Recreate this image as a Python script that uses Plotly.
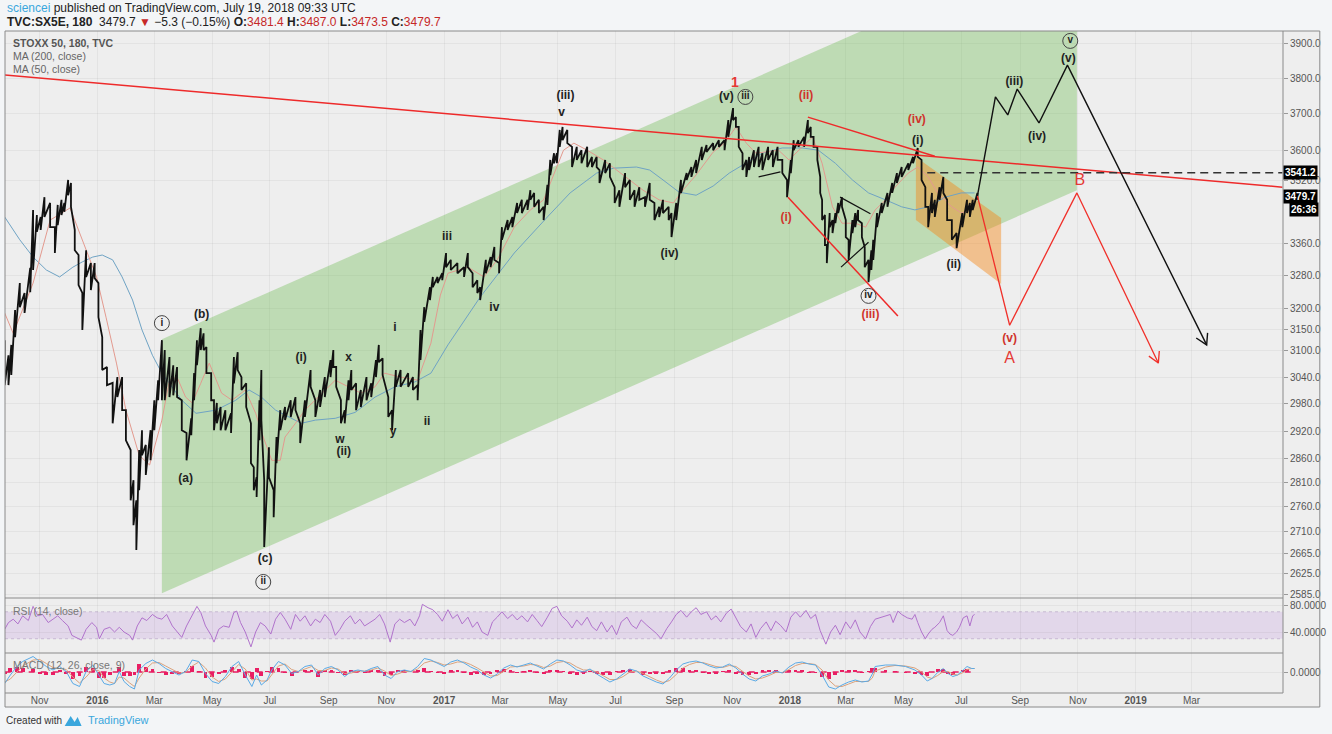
import numpy as np
import pandas as pd
import plotly.graph_objects as go

BASE = pd.Timestamp("2016-01-01")


def to_dates(days):
    return [BASE + pd.Timedelta(days=int(d)) for d in days]


# ---------------- price (180 min bars, condensed: day offset from 2016-01-01, high, low) -------------
price_day = [
    -98, -94, -91, -87, -82, -77, -71, -68, -64, -60, -56, -50, -45, -42, -38, -35, -31, -28, -24, -20,
    -16, -12, -7, -3, 1, 5, 10, 16, 21, 26, 30, 35, 38, 41, 44, 47, 51, 56, 60, 64, 68,
    71, 76, 80, 84, 89, 94, 99, 102, 105, 109, 112, 115, 120, 123, 126, 130, 135, 141, 144, 148,
    152, 157, 162, 165, 168, 171, 173, 176, 181, 186, 189, 193, 198, 204, 209, 214, 219, 225, 230, 235,
    240, 246, 249, 252, 257, 261, 265, 268, 273, 278, 284, 289, 294, 297, 301, 307, 311, 315, 320, 328,
    333, 338, 341, 345, 351,
    354, 359, 364, 368, 373, 380, 387, 391, 396, 401, 404, 410, 415, 419, 424, 427, 433, 438, 443, 448,
    454, 457, 461, 466, 471, 475, 478, 482, 485, 488, 491, 496, 501, 506, 511, 517, 522, 527, 530, 536,
    541, 546, 551, 557, 562, 567, 572, 578, 583, 588, 593, 597, 603, 606, 611, 616, 622, 627, 632, 638,
    643, 650, 656, 662,
    666, 671, 674, 677, 681, 685, 688, 693, 698, 702, 708, 713, 718, 723, 728, 732, 735, 740, 746, 750,
    753, 756, 760, 763, 765, 768, 770, 773, 776, 779, 782, 786, 790, 793, 797, 800, 803, 807, 810, 814,
    817, 819, 823, 828, 834, 839, 844, 849, 856, 861, 866, 870, 874, 877, 881, 884, 889, 893, 897, 902,
    907, 913, 918, 921, 924, 929,
]
price_high = [
    3125, 3090, 3114, 3196, 3261, 3237, 3298, 3444, 3431, 3426, 3477, 3462, 3400, 3457, 3470, 3462, 3522, 3514, 3393, 3330,
    3237, 3342, 3310, 3310, 3261, 3132, 3063, 3027, 3040, 3040, 2966, 2879, 2815, 2773, 2879, 2922, 2890, 2922, 2988, 3033, 3125,
    3102, 3086, 3067, 3063, 2988, 2916, 2948, 3049, 3125, 3153, 3141, 3109, 3049, 2988, 2982, 2973, 2966, 2959, 3086, 3097,
    3040, 3026, 2937, 2842, 2821, 2988, 3056, 2815, 2885, 2794, 2907, 2966, 2973, 2988, 2995, 2937, 2988, 3056, 2988, 3011,
    3040, 3079, 3102, 3063, 2988, 2966, 3033, 3056, 3026, 3011, 3040, 3026, 3079, 3114, 3083, 2995, 2966, 3056, 3056, 3049,
    3040, 3022, 3149, 3203, 3251,
    3276, 3276, 3285, 3335, 3318, 3310, 3300, 3335, 3285, 3268, 3251, 3318, 3325, 3350, 3310, 3400, 3418, 3426, 3462, 3470,
    3470, 3495, 3488, 3470, 3452, 3509, 3575, 3593, 3593, 3656, 3664, 3656, 3610, 3610, 3601, 3610, 3583, 3583, 3548, 3575,
    3566, 3503, 3495, 3540, 3522, 3495, 3503, 3477, 3514, 3462, 3452, 3470, 3452, 3436, 3462, 3522, 3540, 3556, 3575, 3610,
    3615, 3620, 3628, 3628,
    3683, 3716, 3691, 3664, 3593, 3575, 3583, 3601, 3610, 3593, 3610, 3601, 3610, 3575, 3522, 3575, 3628, 3628, 3637, 3683,
    3664, 3637, 3610, 3530, 3470, 3431, 3355, 3436, 3418, 3436, 3462, 3477, 3418, 3368, 3418, 3436, 3444, 3410, 3350, 3318,
    3342, 3368, 3436, 3462, 3488, 3514, 3540, 3556, 3566, 3583, 3607, 3575, 3503, 3452, 3488, 3470, 3503, 3530, 3470, 3418,
    3385, 3436, 3470, 3462, 3470, 3488,
]
price_low = [
    3022, 3022, 3045, 3132, 3203, 3189, 3239, 3293, 3388, 3393, 3426, 3400, 3335, 3405, 3431, 3439, 3482, 3452, 3342, 3256,
    3149, 3276, 3244, 3273, 3179, 3056, 3022, 2937, 2995, 2966, 2900, 2773, 2722, 2672, 2794, 2868, 2826, 2857, 2922, 2988, 2988,
    2988, 2995, 2999, 2995, 2922, 2857, 2911, 2988, 3067, 3102, 3102, 3049, 2988, 2922, 2937, 2922, 2922, 2916, 3026, 3056,
    3011, 2973, 2851, 2794, 2780, 2900, 2944, 2678, 2821, 2738, 2851, 2922, 2944, 2951, 2966, 2894, 2951, 3018, 2951, 2973,
    2995, 3040, 3063, 3018, 2937, 2937, 2988, 3011, 2966, 2973, 2988, 2995, 3040, 3074, 3045, 2951, 2922, 3018, 3018, 3018,
    3011, 2988, 3079, 3168, 3220,
    3251, 3261, 3268, 3300, 3293, 3285, 3276, 3300, 3251, 3237, 3220, 3285, 3300, 3318, 3285, 3368, 3393, 3400, 3436, 3436,
    3444, 3470, 3452, 3436, 3418, 3457, 3535, 3566, 3566, 3610, 3628, 3620, 3556, 3575, 3566, 3556, 3556, 3556, 3514, 3540,
    3530, 3462, 3452, 3503, 3470, 3452, 3470, 3452, 3470, 3418, 3426, 3436, 3418, 3375, 3418, 3488, 3522, 3530, 3540, 3575,
    3596, 3601, 3610, 3601,
    3637, 3683, 3664, 3610, 3548, 3530, 3548, 3556, 3556, 3548, 3575, 3556, 3575, 3540, 3477, 3540, 3601, 3610, 3610, 3647,
    3637, 3610, 3575, 3488, 3418, 3355, 3310, 3400, 3385, 3410, 3436, 3452, 3375, 3318, 3385, 3400, 3418, 3375, 3300, 3263,
    3293, 3318, 3400, 3436, 3452, 3488, 3514, 3530, 3548, 3566, 3583, 3522, 3452, 3400, 3436, 3426, 3470, 3488, 3418, 3368,
    3347, 3400, 3436, 3426, 3444, 3470,
]
assert len(price_day) == len(price_high) == len(price_low), (len(price_day), len(price_high), len(price_low))

# ---------------- moving averages ----------------
ma50_day = [-98, -89, -68, -50, -29, -16, -1, 9, 20, 30, 44, 55, 68, 76, 84, 93, 100, 109, 118, 131,
            142, 156, 167, 175, 184, 193, 198, 209, 219, 233, 251, 265, 278, 293, 303, 320, 338, 352, 362, 370,
            391, 408, 422, 440, 457, 471, 482, 492, 503, 517, 534, 548, 562, 576, 593, 608, 618, 632, 650, 662,
            674, 685, 695, 719, 730, 744, 755, 765, 776, 786, 800, 811, 821, 832, 842, 856, 866, 877, 887, 902,
            912, 923]
ma50_val = [3189, 3141, 3261, 3418, 3449, 3368, 3276, 3179, 3072, 2966, 2868, 2847, 2944, 3033, 3040, 2995, 2982, 3026, 3072, 3004,
            2988, 3011, 2959, 2907, 2857, 2857, 2907, 2937, 2966, 2995, 3033, 3018, 3004, 3018, 3049, 3040, 3033, 3118, 3232, 3285,
            3300, 3276, 3318, 3400, 3444, 3470, 3540, 3601, 3620, 3601, 3575, 3548, 3522, 3495, 3470, 3462, 3495, 3535, 3596, 3620,
            3664, 3620, 3593, 3601, 3575, 3610, 3637, 3566, 3452, 3410, 3410, 3400, 3444, 3470, 3503, 3540, 3556, 3530, 3488, 3452,
            3436, 3444]
ma200_day = [-98, -82, -68, -54, -40, -26, -16, -5, 5, 16, 26, 37, 47, 58, 68, 89, 104, 125, 146, 160,
             173, 188, 202, 215, 230, 251, 272, 293, 314, 335, 352, 370, 404, 440, 475, 499, 527, 545, 569, 583,
             597, 614, 632, 650, 667, 685, 702, 723, 744, 761, 779, 797, 814, 832, 849, 863, 877, 895, 912, 926]
ma200_val = [3426, 3368, 3325, 3293, 3276, 3300, 3313, 3325, 3330, 3318, 3276, 3220, 3149, 3090, 3049, 2988, 2959, 2966, 2988, 3011,
             2995, 2966, 2951, 2937, 2944, 2948, 2961, 2995, 3018, 3029, 3049, 3114, 3227, 3335, 3426, 3488, 3540, 3553, 3556, 3548,
             3522, 3490, 3482, 3506, 3540, 3566, 3593, 3607, 3607, 3601, 3566, 3522, 3488, 3470, 3452, 3444, 3452, 3477, 3488, 3488]
assert len(ma50_day) == len(ma50_val) and len(ma200_day) == len(ma200_val)

# ---------------- RSI (14) ----------------
rsi_day = [-98, -94, -89, -84, -79, -73, -68, -63, -58, -52, -47, -42, -37, -31, -27, -22, -17, -12, -6, -1,
           2, 7, 13, 18, 23, 28, 34, 37, 42, 47, 52, 58, 63, 68, 73, 79, 84, 89, 94, 100,
           105, 109, 114, 120, 123, 128, 133, 139, 144, 147, 151, 156, 162, 167, 172, 177, 183, 188, 193, 198,
           204, 209, 214, 219, 225, 230, 235, 240, 246, 251, 256, 261, 267, 272, 277, 282, 288, 293, 298, 303,
           309, 314, 319, 324, 330, 335, 340, 343, 349, 354, 359, 364, 370,
           375, 380, 385, 391, 396, 401, 406, 412, 417, 422, 427, 433, 438, 443, 448, 454, 459, 464, 469, 475,
           480, 485, 490, 496, 501, 506, 511, 517, 522, 527, 532, 538, 543, 548, 553, 559, 564, 569, 574, 580,
           585, 590, 595, 601, 606, 611, 616, 622, 627, 632, 637, 643, 648, 653, 658, 664, 669, 674, 679, 685,
           690, 695, 700, 706, 711, 716, 721, 727, 732, 737, 742, 748, 753, 758, 763, 769, 774, 779, 784, 790,
           795, 800, 805, 811, 816,
           821, 826, 832, 837, 840, 845, 849, 855, 860, 863, 866, 868, 870, 874, 877, 881, 884, 889, 893, 897,
           900, 903, 907, 910, 914, 918, 921, 924, 926]
rsi_val = [44, 54, 59, 52, 64, 57, 78, 64, 66, 54, 59, 64, 57, 49, 35, 32, 28, 44, 54, 47,
           30, 44, 47, 40, 47, 40, 35, 28, 49, 61, 57, 66, 61, 59, 66, 49, 40, 32, 49, 64,
           78, 69, 49, 35, 25, 44, 49, 47, 69, 71, 54, 40, 18, 40, 54, 49, 37, 59, 69, 59,
           44, 66, 56, 64, 49, 59, 54, 66, 56, 35, 44, 56, 64, 52, 59, 49, 54, 59, 66, 52,
           25, 52, 59, 54, 59, 49, 64, 81, 76, 73, 66, 56, 73,
           60, 66, 52, 62, 47, 55, 40, 35, 55, 62, 70, 60, 66, 58, 64, 55, 66, 57, 48, 62,
           75, 78, 64, 56, 46, 58, 50, 62, 48, 42, 55, 40, 50, 36, 55, 62, 50, 45, 58, 50,
           44, 38, 30, 45, 55, 66, 72, 62, 70, 76, 66, 70, 58, 64, 55, 68, 74, 60, 48, 40,
           52, 32, 45, 55, 42, 56, 50, 40, 62, 70, 62, 72, 60, 66, 42, 22, 40, 50, 36, 55,
           45, 58, 40, 30, 48,
           59, 61, 64, 66, 54, 71, 66, 61, 59, 66, 54, 47, 40, 30, 37, 44, 47, 54, 64, 42,
           37, 35, 40, 47, 61, 64, 49, 64, 66]
assert len(rsi_day) == len(rsi_val), (len(rsi_day), len(rsi_val))

# ---------------- MACD (12, 26, 9) ----------------
macd_day = [-98, -92, -85, -79, -68, -61, -54, -47, -40, -33, -26, -19, -12, -5, 2, 7, 13, 18, 23, 28,
            34, 39, 44, 51, 58, 65, 72, 79, 86, 93, 100, 107, 114, 121, 128, 135, 142, 149, 156, 163,
            168, 173, 179, 184, 191, 198, 205, 212, 219, 226, 233, 240, 247, 254, 261, 268, 275, 282, 289, 296,
            303, 310, 317, 324, 331, 338, 345, 352, 359, 366,
            373, 380, 387, 394, 401, 408, 415, 422, 429, 436, 443, 450, 457, 464, 471, 478, 485, 492, 499, 506,
            513, 520, 527, 534, 541, 548, 555, 562, 569, 576, 583, 590, 597, 604, 611, 618, 625, 632, 639, 646,
            653, 660, 667, 674, 681, 688, 695, 702, 709, 716, 723, 730, 737, 744, 751, 758, 765, 772, 779, 786,
            793, 800, 807, 814, 818,
            821, 832, 842, 853, 863, 870, 876, 881, 887, 893, 898, 903, 908, 914, 918, 923, 926]
macd_val = [-23, -6, 11, 21, 31, 21, 11, 4, 11, 1, -23, -29, 1, 14, -9, -23, -26, -23, 1, -19,
            -29, -34, 4, 17, 24, 17, 7, 1, -6, 1, 24, 21, -3, -19, -23, -9, 11, 21, -6, -29,
            -6, -26, -16, 4, 21, 14, -3, 1, 11, 14, -6, 7, 11, 4, -9, 1, 4, 1, 7, 11,
            -6, -13, 1, 4, 1, 11, 27, 24, 17, 11,
            20, 24, 18, 10, 4, -6, -12, -4, 8, 14, 10, 14, 18, 12, 6, 16, 24, 22, 14, 4,
            0, 6, -4, -12, -20, -14, -4, 6, 2, -8, -14, -20, -24, -12, 4, 16, 20, 22, 18, 12,
            8, 10, 16, 8, -4, -14, -18, -8, -4, 2, -2, 10, 18, 20, 16, 14, -6, -30, -34, -26,
            -20, -16, -20, -18, -4,
            11, 14, 14, 11, 4, -6, -18, -13, -1, 7, -3, -9, -6, 4, 11, 7, 7]
signal_val = [-20, -14, 0, 12, 24, 25, 17, 9, 7, 5, -10, -22, -10, 5, 2, -12, -20, -23, -10, -12,
              -22, -29, -12, 6, 18, 19, 12, 5, -2, -1, 12, 20, 8, -10, -19, -14, 1, 15, 6, -16,
              -14, -18, -18, -6, 12, 16, 5, 1, 6, 11, 3, 3, 8, 6, -3, -2, 2, 2, 4, 8,
              2, -7, -4, 1, 1, 6, 18, 22, 19, 14,
              16, 20, 20, 15, 8, 0, -8, -7, 2, 10, 11, 12, 15, 14, 9, 12, 19, 21, 18, 10,
              4, 4, 0, -7, -15, -15, -9, 0, 2, -3, -10, -16, -21, -17, -5, 8, 15, 19, 19, 15,
              11, 9, 13, 11, 2, -8, -14, -12, -7, -1, -1, 5, 13, 17, 17, 15, 4, -16, -28, -29,
              -24, -19, -19, -19, -12,
              2, 10, 13, 12, 8, 0, -10, -13, -7, 1, 1, -4, -6, -1, 5, 7, 7]
assert len(macd_day) == len(macd_val) == len(signal_val), (len(macd_day), len(macd_val), len(signal_val))

# ---------------- drawings (day offset, price) ----------------
trend_day, trend_px = [-98, 1251], [3809, 3503]
channel_day, channel_px = [68, 1034, 1034, 68], [2587, 3495, 4225, 3127]
flag_day, flag_px = [864, 954, 954, 864], [3583, 3423, 3259, 3418]
wedge_top_day, wedge_top_px = [750, 884], [3691, 3585]
wedge_bot_day, wedge_bot_px = [729, 845], [3477, 3182]
tri_a_day, tri_a_px = [784, 816], [3477, 3434]
tri_b_day, tri_b_px = [785, 814], [3300, 3362]
tri_c_day, tri_c_px = [698, 721], [3530, 3543]
level_day, level_px = [876, 1251], [3541.2, 3541.2]
bull_day, bull_px = [929, 948, 961, 971, 994, 1024, 1171], [3480, 3747, 3697, 3769, 3675, 3837, 3114]
bull_head_day, bull_head_px = [1160, 1171, 1172], [3130, 3114, 3142]
bear_day, bear_px = [929, 963, 1034, 1120], [3480, 3160, 3488, 3072]
bear_head_day, bear_head_px = [1110, 1120, 1121], [3088, 3072, 3100]

# wave labels
blk_day = [110, 93, 177, 215, 265, 256, 260, 314, 312, 348, 369, 419, 494, 490, 604, 664, 866, 904, 968, 992, 1025]
blk_px = [3184, 2817, 2654, 3084, 3084, 2900, 2874, 3153, 2918, 2940, 3375, 3201, 3750, 3702, 3332, 3747, 3626, 3305, 3789, 3637, 3855]
blk_txt = ["(b)", "(a)", "(c)", "(i)", "x", "w", "(ii)", "i", "y", "ii", "iii", "iv", "(iii)", "v", "(iv)", "(v)",
           "(i)", "(ii)", "(iii)", "(iv)", "(v)"]
circ_day = [68, 175, 684, 814, 1027]
circ_px = [3165, 2609, 3747, 3230, 3907]
circ_txt = ["i", "ii", "iii", "iv", "v"]
red_day = [748, 727, 816, 865, 963]
red_px = [3750, 3423, 3184, 3683, 3128]
red_txt = ["(ii)", "(i)", "(iii)", "(iv)", "(v)"]
big_red_day = [963, 1037]
big_red_px = [3081, 3519]
big_red_txt = ["A", "B"]
one_day, one_px = [673], [3786]

# axis ticks
price_ticks = [3900, 3800, 3700, 3600, 3520, 3360, 3280, 3200, 3150, 3100, 3040, 2980, 2920, 2860,
               2810, 2760, 2710, 2665, 2625, 2585]
month_ticks = ["2015-11-01", "2016-01-01", "2016-03-01", "2016-05-01", "2016-07-01", "2016-09-01", "2016-11-01",
               "2017-01-01", "2017-03-01", "2017-05-01", "2017-07-01", "2017-09-01", "2017-11-01",
               "2018-01-01", "2018-03-01", "2018-05-01", "2018-07-01", "2018-09-01", "2018-11-01",
               "2019-01-01", "2019-03-01"]
month_text = ["Nov", "<b>2016</b>", "Mar", "May", "Jul", "Sep", "Nov", "<b>2017</b>", "Mar", "May", "Jul", "Sep",
              "Nov", "<b>2018</b>", "Mar", "May", "Jul", "Sep", "Nov", "<b>2019</b>", "Mar"]

# ---------------- figure ----------------
FONT = "Liberation Sans Narrow, Liberation Sans, Arial, sans-serif"
FONT_LBL = "Liberation Sans, Arial, sans-serif"
W, H = 1332, 734
PL, PR, PT, PB = 5, 1290, 31, 693


def pxx(x):
    return (x - PL) / (PR - PL)


def pxy(y):
    return (PB - y) / (PB - PT)


X_RANGE = ["2015-09-25 08:24", "2019-06-05 14:24"]
fig = go.Figure()


def line(days, vals, color, width=1.5, dash=None, yaxis="y", fill=None, fillcolor=None):
    fig.add_trace(go.Scatter(x=to_dates(days), y=vals, mode="lines", yaxis=yaxis,
                             line=dict(color=color, width=width, dash=dash),
                             fill=fill, fillcolor=fillcolor, hoverinfo="skip"))


# channel and flag
line(channel_day + channel_day[:1], channel_px + channel_px[:1], "rgba(0,0,0,0)", 0,
     fill="toself", fillcolor="rgba(118,190,92,0.40)")
line(flag_day + flag_day[:1], flag_px + flag_px[:1], "rgba(0,0,0,0)", 0,
     fill="toself", fillcolor="rgba(245,135,25,0.45)")

# MAs
line(ma200_day, ma200_val, "#6fa3c4", 1)
line(ma50_day, ma50_val, "#e39a8f", 1)

# price bars: each sample drawn as a vertical high-low stroke, strokes chained together
bar_x, bar_y = [], []
for dte, hi, lo in zip(to_dates(price_day), price_high, price_low):
    bar_x += [dte, dte]
    bar_y += [hi, lo]
fig.add_trace(go.Scatter(x=bar_x, y=bar_y, mode="lines", line=dict(color="#111111", width=1.8),
                         hoverinfo="skip"))

# trend lines and projections
line(trend_day, trend_px, "#ee2a2a", 1.5)
line(wedge_top_day, wedge_top_px, "#ee2a2a", 1.5)
line(wedge_bot_day, wedge_bot_px, "#ee2a2a", 1.5)
line(tri_a_day, tri_a_px, "#111111", 1.2)
line(tri_b_day, tri_b_px, "#111111", 1.2)
line(tri_c_day, tri_c_px, "#111111", 1.2)
line(level_day, level_px, "#333333", 1.5, dash="8px,5px")
line(bull_day, bull_px, "#111111", 1.4)
line(bull_head_day, bull_head_px, "#111111", 1.4)
line(bear_day, bear_px, "#f0302a", 1.3)
line(bear_head_day, bear_head_px, "#f0302a", 1.3)


def labels(days, vals, txts, color, size=12, bold=True):
    fig.add_trace(go.Scatter(x=to_dates(days), y=vals, mode="text",
                             text=[f"<b>{t}</b>" if bold else t for t in txts],
                             textposition="middle center",
                             textfont=dict(color=color, size=size, family=FONT_LBL), hoverinfo="skip"))


labels(blk_day, blk_px, blk_txt, "#222222", 12)
fig.add_trace(go.Scatter(x=to_dates(circ_day), y=circ_px, mode="markers+text",
                         marker=dict(symbol="circle-open", size=15, color="#444444", line=dict(width=1)),
                         text=[f"<b>{t}</b>" for t in circ_txt], textposition="middle center",
                         textfont=dict(color="#222222", size=10, family=FONT_LBL), hoverinfo="skip"))
labels(red_day, red_px, red_txt, "#d0342c", 12)
labels(big_red_day, big_red_px, big_red_txt, "#e53935", 16, bold=False)
labels(one_day, one_px, ["1"], "#e53935", 14)

# RSI
line(rsi_day, rsi_val, "#b173cc", 1, yaxis="y2")

# MACD
hist = np.array(macd_val) - np.array(signal_val)
fig.add_trace(go.Bar(x=to_dates(macd_day), y=hist, yaxis="y3", marker=dict(color="#e91e63", line=dict(width=0)),
                     width=4 * 86400000, hoverinfo="skip"))
line([macd_day[0], macd_day[-1]], [0, 0], "#e91e63", 1.5, dash="6px,6px", yaxis="y3")
line(macd_day, signal_val, "#dba27c", 1, yaxis="y3")
line(macd_day, macd_val, "#5aaae6", 1, yaxis="y3")

GRID = "rgba(0,0,0,0.045)"
axis_font = dict(size=10, color="#555555", family="Liberation Sans, Arial, sans-serif")
fig.update_layout(
    width=W, height=H, margin=dict(l=PL, r=W - PR, t=PT, b=H - PB),
    paper_bgcolor="#f3f5f7", plot_bgcolor="rgba(0,0,0,0)", showlegend=False, bargap=0,
    font=dict(family=FONT, size=10, color="#555555"),
    xaxis=dict(type="date", range=X_RANGE, anchor="y3", domain=[0, 1], tickvals=month_ticks, ticktext=month_text,
               showgrid=True, gridcolor=GRID, ticks="", tickfont=axis_font, showline=False, zeroline=False),
    yaxis=dict(domain=[pxy(598), 1], type="log", range=[np.log10(2578), np.log10(3936)], side="right", anchor="x",
               tickvals=price_ticks, ticktext=[f"{v:.1f}" for v in price_ticks], ticks="outside", ticklen=4,
               tickcolor="#999999", tickfont=axis_font, showgrid=True, gridcolor=GRID, zeroline=False),
    yaxis2=dict(domain=[pxy(653), pxy(598)], range=[8.9, 90.4], side="right", anchor="x",
                tickvals=[80, 40], ticktext=["80.0000", "40.0000"], ticks="outside", ticklen=4,
                tickcolor="#999999", tickfont=axis_font, showgrid=True, gridcolor=GRID, zeroline=False),
    yaxis3=dict(domain=[0, pxy(653)], range=[-42, 38], side="right", anchor="x",
                tickvals=[0], ticktext=["0.0000"], ticks="outside", ticklen=4,
                tickcolor="#999999", tickfont=axis_font, showgrid=True, gridcolor=GRID, zeroline=False),
)

FRAME = "#8a8a8a"
shapes = [
    dict(type="rect", xref="paper", yref="paper", x0=pxx(5), x1=pxx(1327), y0=pxy(707), y1=pxy(31),
         fillcolor="#eeeeee", line=dict(width=0), layer="below"),
    dict(type="rect", xref="x", yref="y2", x0=X_RANGE[0], x1=X_RANGE[1], y0=30, y1=70,
         fillcolor="rgba(170,100,220,0.16)", line=dict(width=0), layer="below"),
    dict(type="line", xref="x", yref="y2", x0=X_RANGE[0], x1=X_RANGE[1], y0=70, y1=70,
         line=dict(color="rgba(140,110,160,0.35)", width=1, dash="dot"), layer="below"),
    dict(type="line", xref="x", yref="y2", x0=X_RANGE[0], x1=X_RANGE[1], y0=30, y1=30,
         line=dict(color="rgba(140,110,160,0.35)", width=1, dash="dot"), layer="below"),
    dict(type="rect", xref="paper", yref="paper", x0=pxx(5), x1=pxx(1327), y0=pxy(707), y1=pxy(31),
         line=dict(color=FRAME, width=1), layer="above"),
    dict(type="line", xref="paper", yref="paper", x0=0, x1=1, y0=pxy(598), y1=pxy(598),
         line=dict(color=FRAME, width=1), layer="above"),
    dict(type="line", xref="paper", yref="paper", x0=0, x1=1, y0=pxy(653), y1=pxy(653),
         line=dict(color=FRAME, width=1), layer="above"),
    dict(type="line", xref="paper", yref="paper", x0=0, x1=1, y0=0, y1=0,
         line=dict(color=FRAME, width=1), layer="above"),
    dict(type="line", xref="paper", yref="paper", x0=1, x1=1, y0=0, y1=1,
         line=dict(color=FRAME, width=1), layer="above"),
    # TradingView logo
    dict(type="path", xref="paper", yref="paper",
         path=(f"M {pxx(65)},{pxy(726)} L {pxx(71)},{pxy(716)} L {pxx(75)},{pxy(722)} "
               f"L {pxx(78)},{pxy(717)} L {pxx(82)},{pxy(726)} Z"),
         fillcolor="#3aa7dd", line=dict(width=0)),
]
fig.update_layout(shapes=shapes)

RED = "#c62828"
anns = [
    dict(x=pxx(5), y=pxy(8), text='<span style="color:#3aa7dd">sciencei</span> published on TradingView.com, '
                                  'July 19, 2018 09:33 UTC', font=dict(size=12, color="#222222")),
    dict(x=pxx(5), y=pxy(22),
         text=(f'<b>TVC:SX5E, 180</b>  3479.7 <span style="color:{RED}">▼</span> −5.3 (−0.15%) '
               f'<b>O:</b><span style="color:{RED}">3481.4</span> <b>H:</b><span style="color:{RED}">3487.0</span> '
               f'<b>L:</b><span style="color:{RED}">3473.5</span> <b>C:</b><span style="color:{RED}">3479.7</span>'),
         font=dict(size=12, color="#222222")),
    dict(x=pxx(11), y=pxy(43), text="<b>STOXX 50, 180, TVC</b>", font=dict(size=10.5, color="#555555")),
    dict(x=pxx(11), y=pxy(56), text="MA (200, close)", font=dict(size=10.5, color="#666666")),
    dict(x=pxx(11), y=pxy(69), text="MA (50, close)", font=dict(size=10.5, color="#666666")),
    dict(x=pxx(11), y=pxy(611), text="RSI (14, close)", font=dict(size=10.5, color="#777777")),
    dict(x=pxx(11), y=pxy(665), text="MACD (12, 26, close, 9)", font=dict(size=10.5, color="#777777")),
    dict(x=pxx(4), y=pxy(720), text="Created with", font=dict(size=10, color="#333333")),
    dict(x=pxx(86), y=pxy(720), text="TradingView", font=dict(size=11, color="#3aa7dd")),
]
for a in anns:
    a.update(xref="paper", yref="paper", xanchor="left", yanchor="middle", showarrow=False)

box_font = dict(size=10, color="#ffffff", family="Liberation Sans, Arial, sans-serif")
anns += [
    dict(xref="paper", yref="y", x=1.0, y=np.log10(3541.2), text="<b>3541.2</b>", xanchor="left", yanchor="middle",
         showarrow=False, bgcolor="#000000", font=box_font, borderpad=1),
    dict(xref="paper", yref="y", x=1.0, y=np.log10(3479.7), text="<b>3479.7</b>", xanchor="left", yanchor="middle",
         showarrow=False, bgcolor="#000000", font=box_font, borderpad=1),
    dict(xref="paper", yref="y", x=pxx(1296), y=np.log10(3479.7), yshift=-13, text="<b>26:36</b>", xanchor="left",
         yanchor="middle", showarrow=False, bgcolor="#000000", font=box_font, borderpad=1),
]
fig.update_layout(annotations=anns)

fig.write_html("out.html")
